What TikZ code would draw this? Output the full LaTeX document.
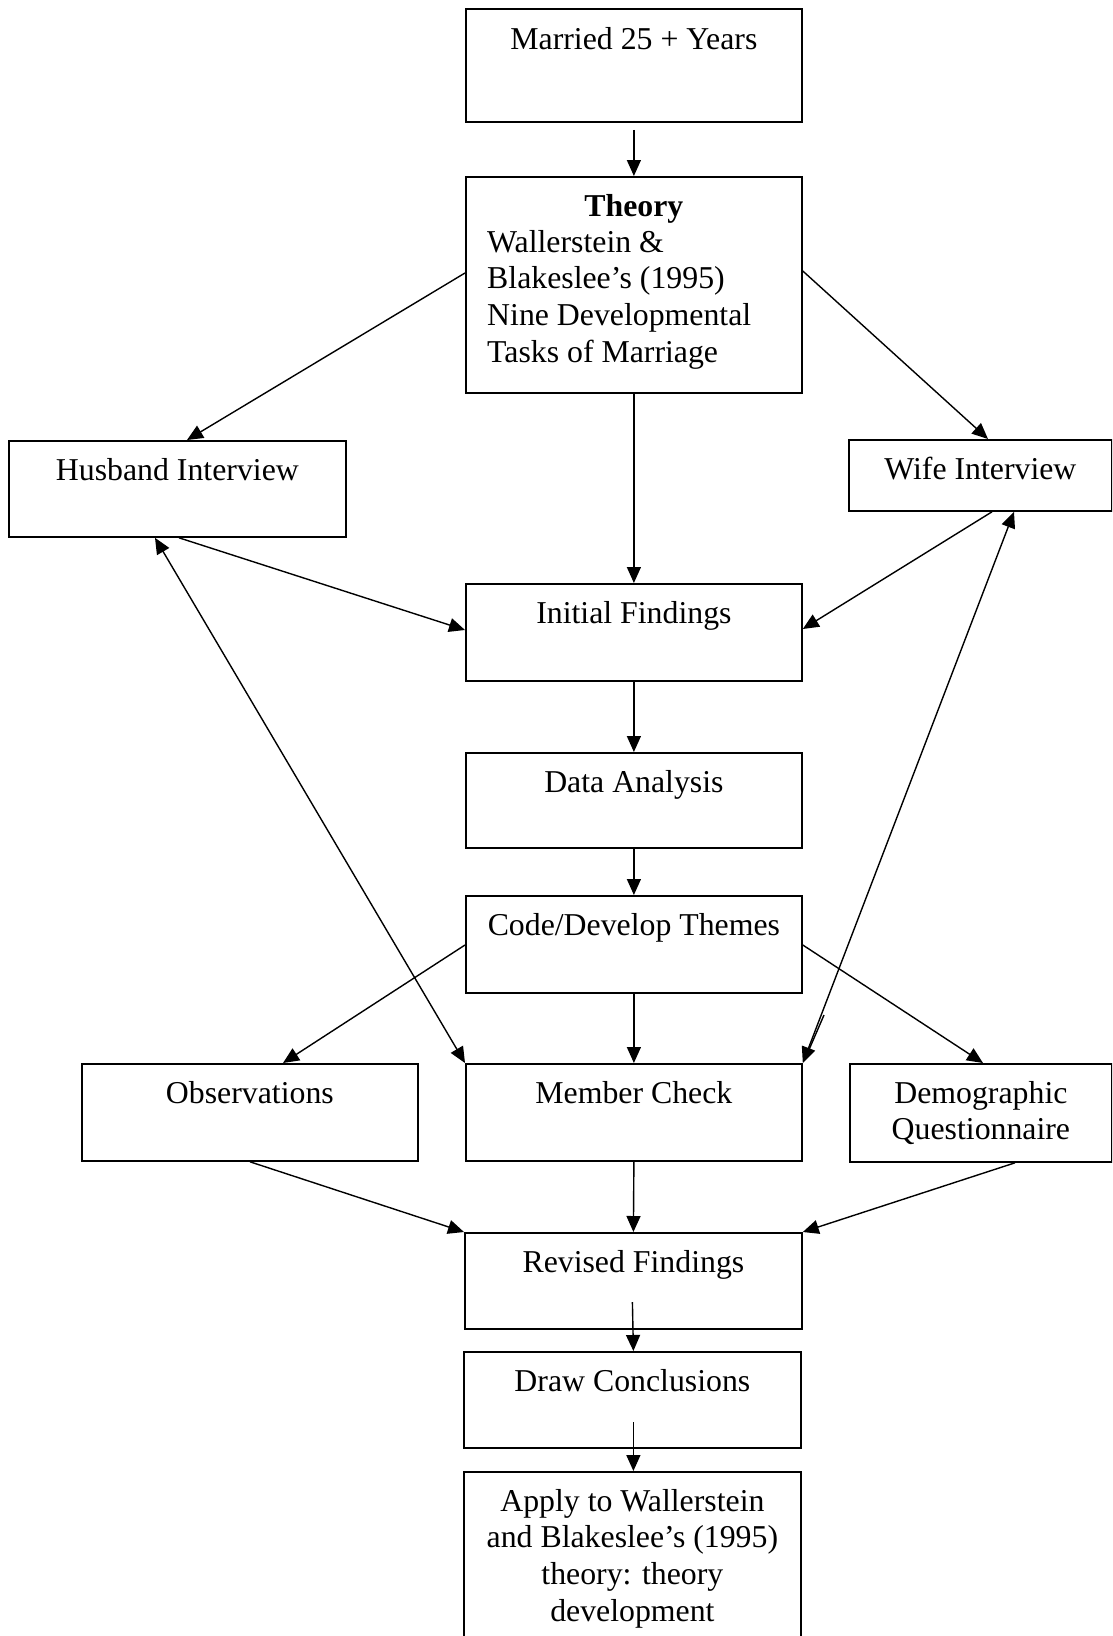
\documentclass[tikz,border=0pt]{standalone}
\usepackage{fontspec}
\setmainfont{Liberation Serif}
\usetikzlibrary{arrows.meta,calc}
\newcommand\mlines[1]{\begin{tabular}[t]{@{}c@{}}#1\end{tabular}}
\begin{document}
\begin{tikzpicture}[x=1pt,y=-1pt,
 box/.style={draw, line width=1.8pt, rectangle, inner sep=0pt, anchor=north west},
 txt/.style={font=\fontsize{31.8}{36.8}\selectfont, inner sep=0pt, anchor=base},
 arr/.style={line width=1.4pt, -{Triangle[length=16pt,width=14pt]}},
 darr/.style={line width=1.4pt, {Triangle[length=16pt,width=14pt]}-{Triangle[length=16pt,width=14pt]}}]
\clip (0,0) rectangle (1112,1636);
\fill[white] (0,0) rectangle (1112,1636);

% boxes
\node[box, minimum width=336pt, minimum height=113pt] (married) at (465,8) {};
\node[box, minimum width=336pt, minimum height=216pt] (theory) at (465,176) {};
\node[box, minimum width=337pt, minimum height=96pt] (husband) at (8,440) {};
\node[box, minimum width=263pt, minimum height=71pt] (wife) at (848,439) {};
\node[box, minimum width=336pt, minimum height=97pt] (initial) at (465,583) {};
\node[box, minimum width=336pt, minimum height=95pt] (data) at (465,752) {};
\node[box, minimum width=336pt, minimum height=97pt] (code) at (465,895) {};
\node[box, minimum width=336pt, minimum height=97pt] (obs) at (81,1063) {};
\node[box, minimum width=336pt, minimum height=97pt] (member) at (465,1063) {};
\node[box, minimum width=262pt, minimum height=98pt] (demo) at (849,1063) {};
\node[box, minimum width=337pt, minimum height=96pt] (revised) at (464,1232) {};
\node[box, minimum width=337pt, minimum height=96pt] (drawc) at (463,1351) {};
\node[box, minimum width=337pt, minimum height=200pt] (apply) at (463,1471) {};

% texts
\node[txt] (married-t) at ($(married.north)+(0,41)$) {Married 25 + Years};
\node[txt] (theory-h) at ($(theory.north)+(0,40)$) {\textbf{Theory}};
\node[txt, anchor=base west] (theory-t) at ($(theory.north west)+(22,76)$)
  {\begin{tabular}[t]{@{}l@{}}Wallerstein \&\\Blakeslee’s (1995)\\Nine Developmental\\Tasks of Marriage\end{tabular}};
\node[txt] (husband-t) at ($(husband.north)+(0,40)$) {Husband Interview};
\node[txt] (wife-t) at ($(wife.north)+(0,40)$) {Wife Interview};
\node[txt] (initial-t) at ($(initial.north)+(0,40)$) {Initial Findings};
\node[txt] (data-t) at ($(data.north)+(0,40)$) {Data Analysis};
\node[txt] (code-t) at ($(code.north)+(0,40)$) {Code/Develop Themes};
\node[txt] (obs-t) at ($(obs.north)+(0,40)$) {Observations};
\node[txt] (member-t) at ($(member.north)+(0,40)$) {Member Check};
\node[txt] (demo-t) at ($(demo.north)+(0,40)$) {\mlines{Demographic\\Questionnaire}};
\node[txt] (revised-t) at ($(revised.north)+(0,40)$) {Revised Findings};
\node[txt] (drawc-t) at ($(drawc.north)+(0,40)$) {Draw Conclusions};
\node[txt] (apply-t) at ($(apply.north)+(0,40)$) {\mlines{Apply to Wallerstein\\and Blakeslee’s (1995)\\theory: theory\\development}};

% connectors
\draw[arr] ($(married.south)+(0,7)$) -- (theory.north);
\draw[arr] ($(theory.north west)+(0,97)$) -- ($(husband.north west)+(179,0)$);
\draw[arr] ($(theory.north east)+(0,95)$) -- ($(wife.north west)+(140,0)$);
\draw[arr] (theory.south) -- (initial.north);
\draw[arr] ($(husband.south west)+(171,0)$) -- ($(initial.north west)+(0,47)$);
\draw[arr] ($(wife.south west)+(144,0)$) -- ($(initial.north east)+(0,46)$);
\draw[darr] ($(husband.south west)+(147,0)$) -- (member.north west);
\draw[darr] ($(wife.south west)+(166,0)$) -- (member.north east);
\coordinate (stroke-a) at (824,1015);
\coordinate (stroke-b) at (808,1052);
\draw[line width=1.4pt] (stroke-a) -- (stroke-b);
\draw[arr] (initial.south) -- (data.north);
\draw[arr] (data.south) -- (code.north);
\draw[arr] ($(code.north west)+(0,50)$) -- ($(obs.north west)+(202,0)$);
\draw[arr] (code.south) -- (member.north);
\draw[arr] ($(code.north east)+(0,50)$) -- ($(demo.north west)+(134,0)$);
\draw[arr] ($(obs.south west)+(169,0)$) -- (revised.north west);
\draw[arr] (member.south) -- (revised.north);
\draw[arr] ($(demo.south west)+(166,0)$) -- (revised.north east);
\draw[arr] ($(revised.north)+(-1,70)$) -- ($(drawc.north)+(1,0)$);
\draw[arr] ($(drawc.north)+(1,71)$) -- ($(apply.north)+(1,0)$);
\end{tikzpicture}
\end{document}
